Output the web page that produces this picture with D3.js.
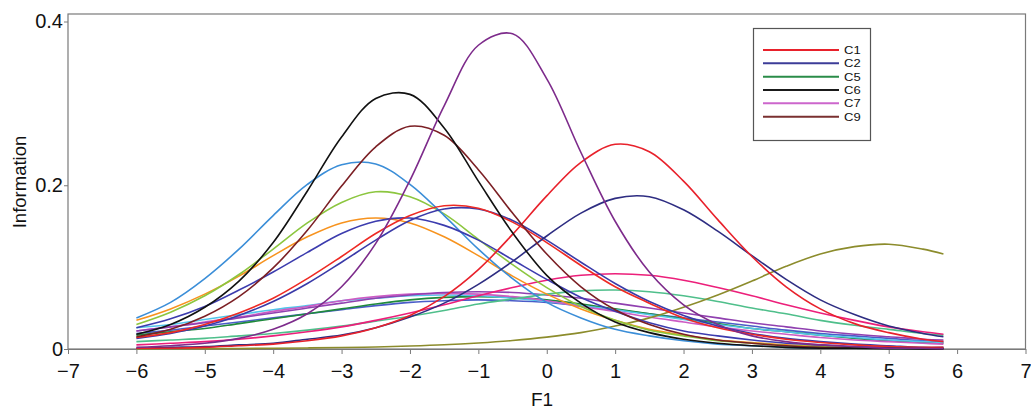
<!DOCTYPE html>
<html>
<head>
<meta charset="utf-8">
<script src="https://cdn.jsdelivr.net/npm/d3@7"></script>
<style>
  body { margin: 0; background: #fff; }
</style>
</head>
<body>
<div id="chart"></div>
<script>
// F1 values the curves were read at
const theta = [-6, -5.5, -5, -4.5, -4, -3.5, -3, -2.5, -2, -1.5, -1, -0.5, 0, 0.5, 1, 1.5, 2, 2.5, 3, 3.5, 4, 4.5, 5, 5.5, 5.8];

// information, one array per curve
const cyanItem    = [0.026, 0.030, 0.036, 0.042, 0.048, 0.053, 0.059, 0.062, 0.065, 0.066, 0.065, 0.062, 0.058, 0.053, 0.048, 0.042, 0.036, 0.030, 0.025, 0.021, 0.017, 0.014, 0.011, 0.009, 0.008];
const violetItem  = [0.022, 0.027, 0.032, 0.038, 0.044, 0.050, 0.056, 0.062, 0.066, 0.069, 0.070, 0.069, 0.066, 0.062, 0.056, 0.050, 0.044, 0.038, 0.032, 0.027, 0.022, 0.018, 0.015, 0.012, 0.011];
const c7          = [0.022, 0.027, 0.033, 0.039, 0.046, 0.052, 0.059, 0.064, 0.067, 0.068, 0.067, 0.064, 0.059, 0.052, 0.046, 0.039, 0.033, 0.027, 0.022, 0.018, 0.014, 0.011, 0.009, 0.007, 0.006];
const c5          = [0.017, 0.021, 0.025, 0.031, 0.037, 0.043, 0.049, 0.055, 0.060, 0.063, 0.064, 0.063, 0.060, 0.055, 0.049, 0.043, 0.037, 0.031, 0.025, 0.021, 0.017, 0.013, 0.010, 0.008, 0.007];
const blueFlat    = [0.019, 0.023, 0.028, 0.033, 0.038, 0.043, 0.048, 0.053, 0.057, 0.059, 0.060, 0.059, 0.057, 0.053, 0.048, 0.043, 0.038, 0.033, 0.028, 0.023, 0.019, 0.016, 0.013, 0.010, 0.009];
const tealItem    = [0.009, 0.011, 0.013, 0.016, 0.019, 0.023, 0.028, 0.034, 0.040, 0.047, 0.055, 0.061, 0.067, 0.071, 0.072, 0.070, 0.065, 0.058, 0.050, 0.043, 0.035, 0.029, 0.024, 0.019, 0.017];
const pinkItem    = [0.005, 0.007, 0.009, 0.012, 0.016, 0.021, 0.027, 0.035, 0.044, 0.054, 0.065, 0.075, 0.084, 0.090, 0.092, 0.090, 0.084, 0.075, 0.065, 0.054, 0.044, 0.035, 0.027, 0.021, 0.018];
const oliveItem   = [0.0002, 0.0003, 0.0004, 0.0006, 0.0009, 0.0013, 0.0018, 0.0025, 0.0036, 0.0051, 0.0074, 0.0104, 0.0145, 0.020, 0.028, 0.038, 0.051, 0.066, 0.083, 0.101, 0.116, 0.125, 0.128, 0.122, 0.116];
const orangeItem  = [0.035, 0.049, 0.067, 0.089, 0.114, 0.137, 0.154, 0.160, 0.154, 0.137, 0.114, 0.089, 0.067, 0.049, 0.035, 0.024, 0.017, 0.011, 0.008, 0.005, 0.004, 0.002, 0.002, 0.001, 0.001];
const limeItem    = [0.030, 0.045, 0.065, 0.091, 0.122, 0.154, 0.179, 0.192, 0.186, 0.165, 0.134, 0.103, 0.075, 0.052, 0.035, 0.023, 0.016, 0.010, 0.007, 0.004, 0.003, 0.002, 0.001, 0.001, 0.0006];
const skyItem     = [0.038, 0.057, 0.086, 0.122, 0.163, 0.201, 0.225, 0.226, 0.201, 0.163, 0.122, 0.086, 0.057, 0.038, 0.024, 0.016, 0.010, 0.006, 0.004, 0.002, 0.001, 0.001, 0.001, 0.0003, 0.0003];
const blueB       = [0.026, 0.037, 0.052, 0.072, 0.094, 0.118, 0.141, 0.156, 0.160, 0.151, 0.133, 0.109, 0.085, 0.063, 0.046, 0.032, 0.022, 0.016, 0.011, 0.007, 0.005, 0.003, 0.002, 0.001, 0.001];
const blueA       = [0.013, 0.019, 0.028, 0.041, 0.058, 0.080, 0.106, 0.133, 0.157, 0.171, 0.171, 0.157, 0.133, 0.106, 0.080, 0.058, 0.041, 0.028, 0.019, 0.013, 0.009, 0.006, 0.004, 0.002, 0.002];
const redItem     = [0.014, 0.020, 0.030, 0.044, 0.062, 0.086, 0.113, 0.141, 0.163, 0.175, 0.172, 0.155, 0.130, 0.102, 0.076, 0.056, 0.038, 0.026, 0.018, 0.012, 0.008, 0.005, 0.003, 0.002, 0.002];
const c2          = [0.001, 0.002, 0.003, 0.005, 0.007, 0.012, 0.017, 0.026, 0.039, 0.056, 0.079, 0.107, 0.138, 0.166, 0.184, 0.186, 0.170, 0.144, 0.114, 0.085, 0.060, 0.042, 0.028, 0.019, 0.015];
const c1          = [0.001, 0.001, 0.002, 0.004, 0.006, 0.010, 0.016, 0.026, 0.041, 0.064, 0.097, 0.140, 0.187, 0.228, 0.250, 0.241, 0.205, 0.158, 0.113, 0.076, 0.049, 0.031, 0.020, 0.012, 0.009];
const c9          = [0.015, 0.024, 0.040, 0.064, 0.099, 0.145, 0.199, 0.247, 0.272, 0.261, 0.219, 0.166, 0.116, 0.076, 0.048, 0.030, 0.018, 0.011, 0.007, 0.004, 0.002, 0.001, 0.001, 0.0005, 0.0004];
const c6          = [0.018, 0.030, 0.051, 0.083, 0.130, 0.193, 0.259, 0.306, 0.311, 0.270, 0.205, 0.142, 0.090, 0.056, 0.033, 0.020, 0.012, 0.007, 0.004, 0.002, 0.001, 0.001, 0.0004, 0.0002, 0.0002];
const purpleItem  = [0.002, 0.004, 0.007, 0.013, 0.024, 0.043, 0.076, 0.129, 0.206, 0.297, 0.371, 0.385, 0.330, 0.240, 0.156, 0.094, 0.054, 0.030, 0.016, 0.009, 0.005, 0.003, 0.001, 0.001, 0.0005];

const xTicks = [-7, -6, -5, -4, -3, -2, -1, 0, 1, 2, 3, 4, 5, 6, 7];
const yTicks = [0, 0.2, 0.4];
const legendNames = ["C1", "C2", "C5", "C6", "C7", "C9"];
const legendColors = ["#e8212b", "#3c3c98", "#2a8c48", "#1a1a1a", "#cc66cc", "#7a3030"];

// drawing order, back to front
const series = [
  { values: blueFlat,   color: "#4a5cc8" },
  { values: c5,         color: "#1f8a3c" },
  { values: cyanItem,   color: "#52c5ea" },
  { values: c7,         color: "#cc5cc4" },
  { values: violetItem, color: "#9040b0" },
  { values: tealItem,   color: "#4fbf8b" },
  { values: pinkItem,   color: "#ec1f7a" },
  { values: oliveItem,  color: "#8c8c2c" },
  { values: orangeItem, color: "#f7931e" },
  { values: limeItem,   color: "#8cc63f" },
  { values: skyItem,    color: "#3b8ed8" },
  { values: blueB,      color: "#3c3cae" },
  { values: blueA,      color: "#3a3aa8" },
  { values: redItem,    color: "#ee2a24" },
  { values: c2,         color: "#2e2d82" },
  { values: c1,         color: "#e8212b" },
  { values: c9,         color: "#7b1f24" },
  { values: c6,         color: "#111111" },
  { values: purpleItem, color: "#7d2b8b" },
];

const width = 1031;
const height = 409;
const font = "'Liberation Sans', Arial, sans-serif";

const svg = d3.create("svg")
  .attr("width", width)
  .attr("height", height)
  .attr("viewBox", [0, 0, width, height])
  .style("font-family", font);

const x = d3.scaleLinear().domain([-7, 7]).range([68, 1025.5]);
const y = d3.scaleLinear().domain([0, 0.4]).range([349, 21.5]);
const frameTop = 14;

// plot frame
svg.append("rect")
  .attr("x", x(-7))
  .attr("y", frameTop)
  .attr("width", x(7) - x(-7))
  .attr("height", y(0) - frameTop)
  .attr("fill", "none")
  .attr("stroke", "#7a7a7a")
  .attr("stroke-width", 1.2);

// axes
const xAxis = svg.append("g")
  .attr("transform", `translate(0,${y(0)})`)
  .attr("color", "#7a7a7a")
  .call(d3.axisBottom(x).tickValues(xTicks).tickSize(5).tickSizeOuter(0).tickPadding(10))
  .call(g => g.select(".domain").attr("stroke-width", 1.2));
xAxis.selectAll("text").attr("fill", "#111").style("font-size", "20px").style("font-family", font);

const yAxis = svg.append("g")
  .attr("transform", `translate(${x(-7)},0)`)
  .attr("color", "#7a7a7a")
  .call(d3.axisLeft(y).tickValues(yTicks).tickFormat(d3.format("")).tickSize(4).tickSizeOuter(0).tickPadding(1))
  .call(g => g.select(".domain").remove());
yAxis.selectAll("text").attr("fill", "#111").style("font-size", "20px").style("font-family", font);

// axis titles
svg.append("text")
  .attr("x", 542)
  .attr("y", 406)
  .attr("text-anchor", "middle")
  .style("font-size", "19px")
  .attr("fill", "#111")
  .text("F1");

svg.append("text")
  .attr("transform", "translate(26,182) rotate(-90)")
  .attr("text-anchor", "middle")
  .style("font-size", "18.5px")
  .attr("fill", "#111")
  .text("Information");

// curves
const line = d3.line()
  .x((d, i) => x(theta[i]))
  .y(d => y(d))
  .curve(d3.curveCatmullRom.alpha(0.5));

svg.append("g")
  .attr("fill", "none")
  .attr("stroke-width", 1.6)
  .selectAll("path")
  .data(series)
  .join("path")
  .attr("stroke", d => d.color)
  .attr("d", d => line(d.values));

// legend
const legend = svg.append("g");
legend.append("rect")
  .attr("x", 753.5)
  .attr("y", 28.5)
  .attr("width", 117)
  .attr("height", 112)
  .attr("fill", "#fff")
  .attr("stroke", "#555")
  .attr("stroke-width", 1.2);

const rows = legend.selectAll("g.row")
  .data(legendNames)
  .join("g")
  .attr("class", "row")
  .attr("transform", (d, i) => `translate(0,${50 + i * 13.33})`);

rows.append("line")
  .attr("x1", 763)
  .attr("x2", 839)
  .attr("stroke", (d, i) => legendColors[i])
  .attr("stroke-width", 2);

// labels are packed tightly in the original, squeeze them a little
rows.append("text")
  .attr("transform", "translate(844,0) scale(1,0.88)")
  .attr("dy", "0.36em")
  .style("font-size", "13px")
  .attr("fill", "#111")
  .text(d => d);

document.getElementById("chart").appendChild(svg.node());
</script>
</body>
</html>
